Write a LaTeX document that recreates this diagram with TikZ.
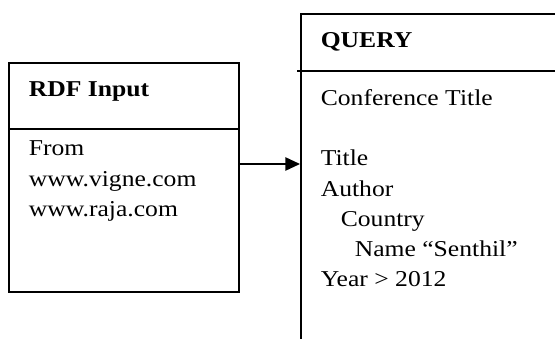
\documentclass[tikz,border=0pt]{standalone}
\usepackage{fontspec}
\setmainfont[FakeStretch=1.13]{Liberation Serif}
\usetikzlibrary{arrows.meta}

\begin{document}
\begin{tikzpicture}[x=0.75pt, y=-0.75pt, line width=1.2pt, >={Triangle[length=11pt,width=10pt]},
  txt/.style={anchor=base west, inner sep=0pt, font=\fontsize{17}{22.5}\selectfont},
  head/.style={txt, font=\fontsize{17}{22.5}\selectfont\bfseries},
  box/.style={draw, anchor=north west, inner sep=0pt}]
\useasboundingbox (0,0) rectangle (555,338);
\clip (0,0) rectangle (555,338);

% RDF input box
\node[box, minimum width=172.5pt, minimum height=171.75pt] (rdf) at (8,62) {};
\draw (rdf.west |- 0,129) -- (rdf.east |- 0,129);
\node[head] (rdfhead) at (28,97) {RDF Input};
\foreach \src [count=\i] in {From, www.vigne.com, www.raja.com}
  \node[txt] (src\i) at (28,{126+30*\i}) {\src};

% query box, cut off on the right and at the bottom
\node[box, minimum width=240pt, minimum height=300pt] (query) at (300,13) {};
\draw ([xshift=-2.25pt]query.west |- 0,71) -- (query.east |- 0,71);
\node[head] (qhead) at (320,48) {QUERY};
\node[txt] (q1) at (320,106) {Conference Title};
\node[txt] (q2) at (320,166) {Title};
\node[txt] (q3) at (320,196) {Author};
\node[txt] (q4) at (340,226) {Country};
\node[txt] (q5) at (354,256) {Name ``Senthil''};
\node[txt] (q6) at (320,286) {Year > 2012};

\draw[->] (rdf.east |- 0,164) -- (query.west |- 0,164);
\end{tikzpicture}
\end{document}
